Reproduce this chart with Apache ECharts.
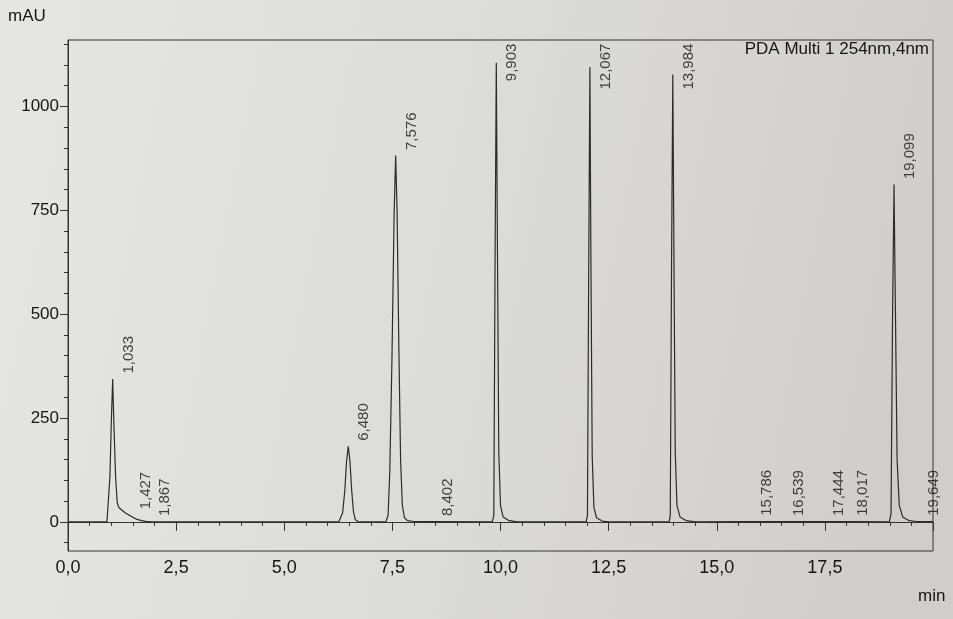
<!DOCTYPE html>
<html>
<head>
<meta charset="utf-8">
<script src="https://cdn.jsdelivr.net/npm/echarts@6/dist/echarts.min.js"></script>
<style>
html, body { margin: 0; padding: 0; }
#main { width: 953px; height: 619px; }
</style>
</head>
<body>
<div id="main"></div>
<script>
// retention times (min) and apex heights (mAU) of the integrated peaks
var peakTimes   = [1.033, 1.427, 1.867, 6.480, 7.576, 8.402, 9.903, 12.067, 13.984, 15.786, 16.539, 17.444, 18.017, 19.099, 19.649];
var peakHeights = [344, 17, 1, 182, 882, 1, 1105, 1095, 1077, 1.5, 1, 1, 1.5, 812, 1.5];

// chromatogram trace
var traceTime = [
	0.00, 0.90, 0.94, 0.97, 1.00, 1.033, 1.06, 1.10, 1.14, 1.18, 1.25, 1.32, 1.40, 1.50, 1.60, 1.70, 1.80, 1.90, 2.10,
	6.26, 6.30, 6.35, 6.40, 6.44, 6.48, 6.52, 6.56, 6.60, 6.64, 6.70, 6.78,
	7.35, 7.40, 7.44, 7.49, 7.54, 7.576, 7.61, 7.65, 7.69, 7.73, 7.78, 7.85, 8.00, 8.38, 8.402, 8.43,
	9.81, 9.845, 9.875, 9.903, 9.93, 9.96, 10.00, 10.06, 10.20, 10.40,
	11.98, 12.01, 12.04, 12.067, 12.09, 12.12, 12.16, 12.22, 12.35, 12.50,
	13.90, 13.925, 13.955, 13.984, 14.01, 14.04, 14.08, 14.15, 14.30, 14.50,
	15.75, 15.786, 15.82, 16.50, 16.539, 16.58, 17.41, 17.444, 17.48, 17.98, 18.017, 18.06,
	18.99, 19.03, 19.065, 19.099, 19.13, 19.17, 19.22, 19.30, 19.45, 19.62, 19.649, 19.68, 20.00
];
var traceMAU = [
	0, 0, 3, 110, 235, 344, 240, 110, 45, 34, 28, 22, 17, 11, 6, 3, 1.5, 0.5, 0,
	0, 4, 22, 75, 145, 182, 145, 75, 25, 6, 1, 0,
	0, 15, 120, 390, 740, 882, 740, 420, 150, 40, 10, 3, 1, 0.5, 1, 0.5,
	0, 15, 640, 1105, 650, 170, 40, 12, 3, 0,
	0, 15, 620, 1095, 640, 160, 35, 10, 2, 0,
	0, 15, 620, 1077, 640, 170, 40, 12, 3, 0,
	0.5, 1.5, 0.5, 0.5, 1, 0.5, 0.5, 1, 0.5, 0.5, 1.5, 0.5,
	0, 20, 500, 812, 520, 150, 40, 12, 3, 1, 1.5, 1, 0.5
];

var xLabelStep = 2.5;
var yLabelValues = [0, 250, 500, 750, 1000];
var yMinorValues = [-50, 0, 50, 100, 150, 200, 250, 300, 350, 400, 450, 500, 550, 600, 650, 700, 750, 800, 850, 900, 950, 1000, 1050, 1100, 1150];

var FONT = 'Liberation Sans';
var INK = '#151515';

var trace = traceTime.map(function (t, i) { return [t, traceMAU[i]]; });

var labelCap = 1035;   // apex above this: label is hung from the top of the frame
var peakMarks = peakTimes.map(function (t, i) {
	var h = peakHeights[i];
	if (h > labelCap) {
		return { value: [t, 1150], label: { align: 'right', position: [9, 0] } };
	}
	return { value: [t, h] };
});

function comma(v, d) { return v.toFixed(d).replace('.', ','); }

var chart = echarts.init(document.getElementById('main'));

var option = {
	animation: false,
	backgroundColor: {
		type: 'linear', x: 0, y: 0, x2: 1, y2: 0.3,
		colorStops: [
			{ offset: 0, color: '#e6e6e3' },
			{ offset: 0.5, color: '#dcdcd8' },
			{ offset: 1, color: '#cfcecb' }
		]
	},
	textStyle: { fontFamily: FONT },
	grid: {
		left: 68, right: 20, top: 40, bottom: 68,
		show: true, borderColor: '#333', borderWidth: 1, backgroundColor: 'transparent'
	},
	graphic: [
		{ type: 'text', left: 8, top: 8, style: { text: 'mAU', font: '17px ' + FONT, fill: INK } },
		{ type: 'text', left: 918, top: 588, style: { text: 'min', font: '17px ' + FONT, fill: INK } },
		{ type: 'text', right: 24, top: 41, style: { text: 'PDA Multi 1 254nm,4nm', font: '17px ' + FONT, fill: INK } }
	],
	xAxis: {
		type: 'value', min: 0, max: 20, interval: xLabelStep,
		axisLine: { show: true, lineStyle: { color: '#333', width: 1 } },
		axisTick: { show: true, length: 9, lineStyle: { color: '#333' } },
		minorTick: { show: true, splitNumber: 5, length: 4, lineStyle: { color: '#333' } },
		splitLine: { show: false },
		axisLabel: {
			color: INK, fontSize: 18, margin: 8, fontFamily: FONT,
			formatter: function (v) { return v >= 20 ? '' : comma(v, 1); }
		}
	},
	yAxis: [
		{
			type: 'value', min: -70, max: 1160, position: 'left',
			axisLine: { show: true, lineStyle: { color: '#333', width: 1 } },
			axisTick: { show: true, length: 8, customValues: yLabelValues, lineStyle: { color: '#333' } },
			axisLabel: {
				color: INK, fontSize: 17, margin: 9, fontFamily: FONT, customValues: yLabelValues,
				formatter: function (v) { return String(v); }
			},
			splitLine: { show: false }
		},
		{
			type: 'value', min: -70, max: 1160, position: 'left',
			axisLine: { show: false },
			axisTick: { show: true, length: 4, customValues: yMinorValues, lineStyle: { color: '#333' } },
			axisLabel: { show: false },
			splitLine: { show: false }
		}
	],
	series: [
		{
			name: 'PDA Multi 1 254nm,4nm',
			type: 'line',
			data: trace,
			showSymbol: false,
			lineStyle: { color: '#2b2b2b', width: 1.2 },
			z: 3
		},
		{
			name: 'peaks',
			type: 'scatter',
			data: peakMarks,
			symbolSize: 1,
			itemStyle: { color: 'rgba(0,0,0,0)' },
			label: {
				show: true,
				rotate: 90,
				position: [9, -5],
				align: 'left',
				verticalAlign: 'top',
				color: INK,
				fontSize: 15,
				fontFamily: FONT,
				formatter: function (p) { return comma(p.value[0], 3); }
			},
			z: 4
		}
	]
};

chart.setOption(option);
</script>
</body>
</html>
